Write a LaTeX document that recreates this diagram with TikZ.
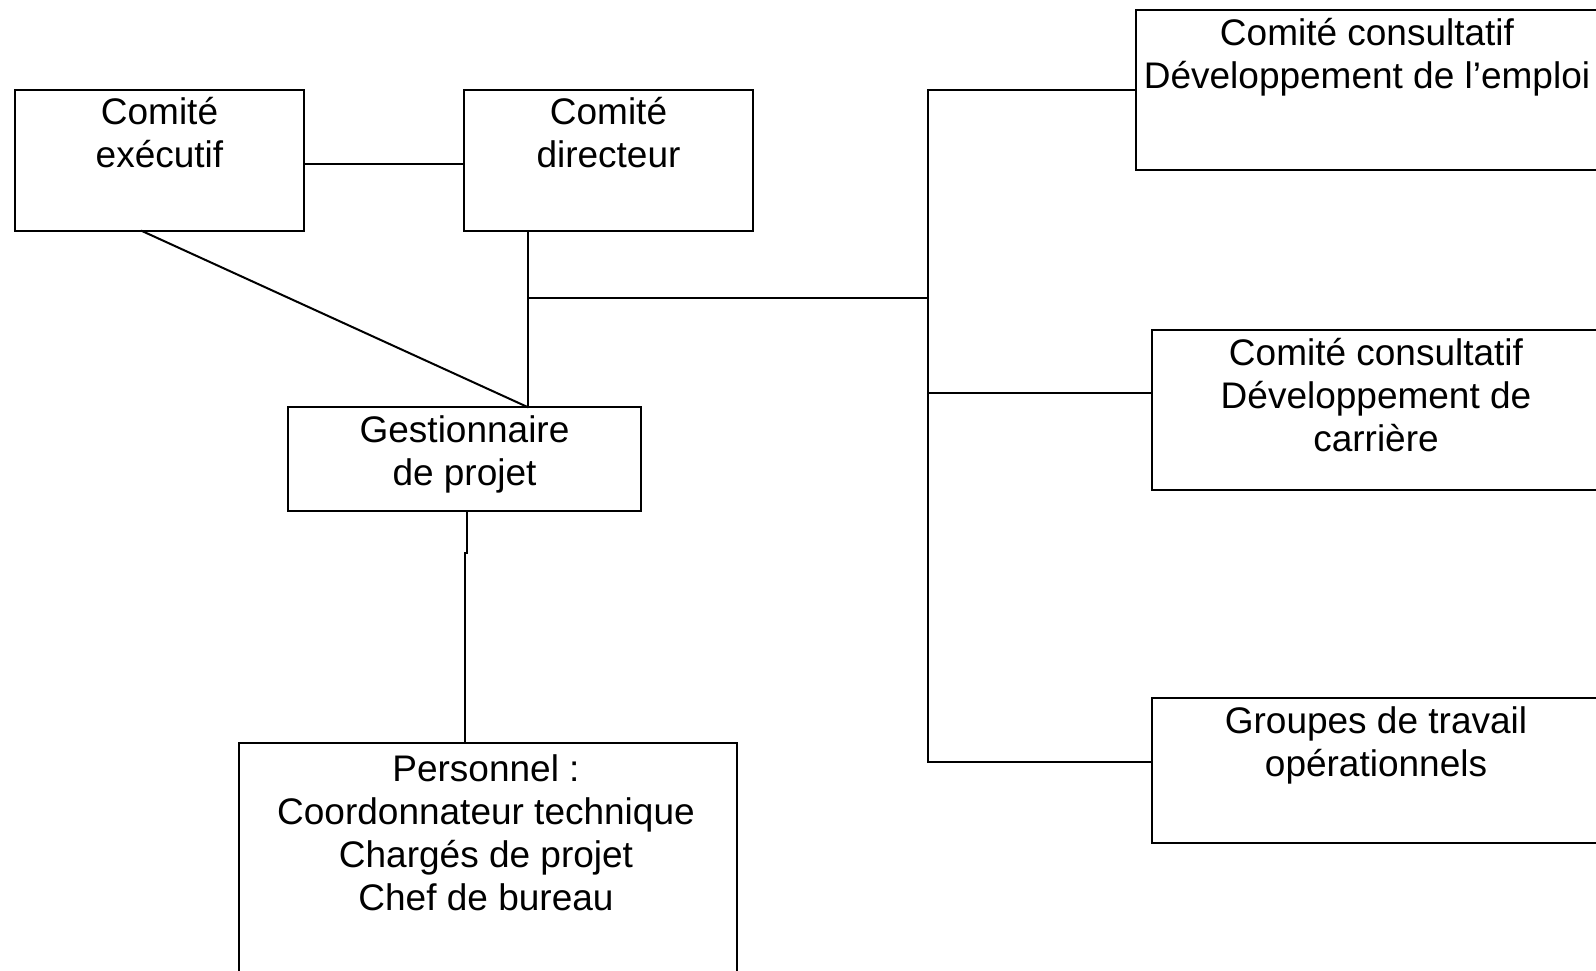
\documentclass[tikz,border=0pt]{standalone}
\usepackage{fontspec}
\setmainfont{Liberation Sans}
\begin{document}
\begin{tikzpicture}[x=1pt, y=-1pt,
  box/.style={draw, line width=2pt, rectangle, anchor=north west,
              inner sep=0pt, outer sep=0pt},
  lbl/.style={anchor=north, align=center, inner sep=0pt,
              font=\fontsize{37}{43}\selectfont},
  link/.style={line width=2pt, line cap=rect}]

  % page frame
  \fill[white] (0,0) rectangle (1596,970);
  \useasboundingbox (0,0) rectangle (1596,970);
  \clip (0,0) rectangle (1596,970);

  % boxes
  \node[box, minimum width=289pt, minimum height=141pt] (exe) at (15,90) {};
  \node[box, minimum width=289pt, minimum height=141pt] (dir) at (464,90) {};
  \node[box, minimum width=353pt, minimum height=104pt] (gest) at (288,407) {};
  \node[box, minimum width=498pt, minimum height=300pt] (pers) at (239,743) {};
  \node[box, minimum width=462pt, minimum height=160pt] (emploi) at (1136,10) {};
  \node[box, minimum width=448pt, minimum height=160pt] (carriere) at (1152,330) {};
  \node[box, minimum width=448pt, minimum height=145pt] (groupes) at (1152,698) {};

  % labels
  \node[lbl, yshift=-7pt]  (exeT) at (exe.north) {Comité\\exécutif};
  \node[lbl, yshift=-7pt]  (dirT) at (dir.north) {Comité\\directeur};
  \node[lbl, yshift=-8pt]  (gestT) at (gest.north) {Gestionnaire\\de projet};
  \node[lbl, yshift=-11pt] (persT) at ([xshift=-2pt]pers.north)
    {Personnel :\\Coordonnateur technique\\Chargés de projet\\Chef de bureau};
  \node[lbl, yshift=-8pt]  (emploiT) at (emploi.north)
    {Comité consultatif\\Développement de l’emploi};
  \node[lbl, yshift=-8pt]  (carriereT) at (carriere.north)
    {Comité consultatif\\Développement de\\carrière};
  \node[lbl, yshift=-8pt]  (groupesT) at (groupes.north)
    {Groupes de travail\\opérationnels};

  % connection points
  \coordinate (gtop) at ([xshift=63pt]gest.north);
  \coordinate (jn) at (gtop |- 0,298);
  \coordinate (bus) at (928,298);
  \coordinate (pin) at ([xshift=-23pt]pers.north);

  % left group
  \draw[link] ([yshift=-3.5pt]exe.east) -- ([yshift=-3.5pt]dir.west);
  \draw[link] ([xshift=-17.5pt]exe.south) -- (gtop);
  \draw[link] (dir.south -| gtop) -- (gtop);
  \draw[link] ([xshift=2.5pt]gest.south) -- ++(0,42) -- ++(-2,0) -- (pin);

  % bus to the advisory bodies
  \draw[link] (jn) -- (bus);
  \draw[link] (emploi.west -| bus) -- ([yshift=8.5pt]groupes.west -| bus);
  \draw[link] (emploi.west -| bus) -- (emploi.west);
  \draw[link] ([yshift=17pt]carriere.west -| bus) -- ([yshift=17pt]carriere.west);
  \draw[link] ([yshift=8.5pt]groupes.west -| bus) -- ([yshift=8.5pt]groupes.west);
\end{tikzpicture}
\end{document}
